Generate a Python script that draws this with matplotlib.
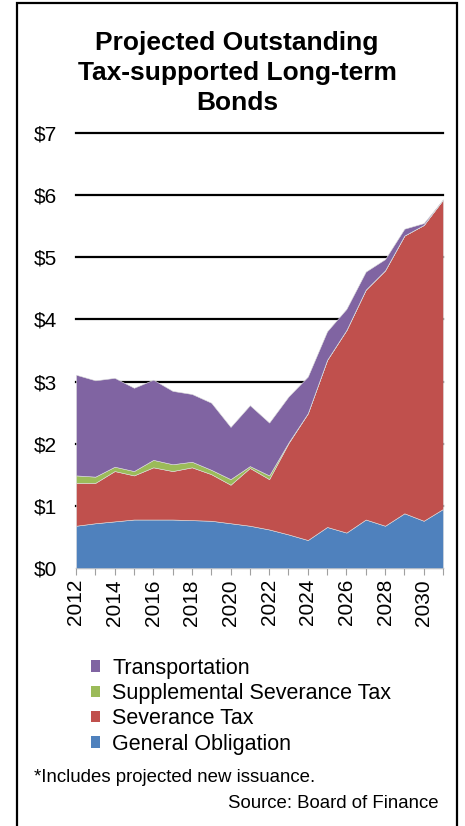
import matplotlib
matplotlib.use("Agg")
import matplotlib.pyplot as plt
from matplotlib.patches import Rectangle, Patch

plt.rcParams['font.family'] = ['Liberation Sans', 'DejaVu Sans']

years = list(range(2012, 2032))
general_obligation = [0.68, 0.72, 0.75, 0.78, 0.78, 0.78, 0.77, 0.76, 0.72, 0.68,
                      0.62, 0.54, 0.45, 0.66, 0.57, 0.78, 0.68, 0.88, 0.76, 0.95]
severance_tax = [0.69, 0.65, 0.81, 0.71, 0.84, 0.78, 0.85, 0.75, 0.62, 0.93,
                 0.81, 1.47, 2.04, 2.69, 3.26, 3.70, 4.11, 4.47, 4.76, 4.98]
supplemental = [0.12, 0.10, 0.07, 0.07, 0.12, 0.11, 0.09, 0.07, 0.09, 0.03,
                0.06, 0.01, 0.00, 0.00, 0.00, 0.00, 0.00, 0.00, 0.00, 0.00]
transportation = [1.62, 1.55, 1.43, 1.34, 1.29, 1.18, 1.09, 1.08, 0.84, 0.98,
                  0.85, 0.74, 0.59, 0.46, 0.34, 0.29, 0.18, 0.11, 0.03, 0.00]

series_names = ["General Obligation", "Severance Tax",
                "Supplemental Severance Tax", "Transportation"]
colors = ["#4F81BD", "#C0504D", "#9BBB59", "#8064A2"]
y_ticks = [0, 1, 2, 3, 4, 5, 6, 7]
y_labels = ["$0", "$1", "$2", "$3", "$4", "$5", "$6", "$7"]

W, H = 465, 826
fig = plt.figure(figsize=(W / 100, H / 100), dpi=100)

# outer frame
fig.patches.append(Rectangle((17 / W, -0.05), (457 - 17) / W, 1.05 - 3 / H,
                             transform=fig.transFigure, fill=False,
                             edgecolor="black", linewidth=1.6))

ax = fig.add_axes([76 / W, 1 - 568 / H, (443 - 76) / W, (568 - 133) / H])
ax.stackplot(years, general_obligation, severance_tax, supplemental, transportation,
             colors=colors, edgecolor="#dddddd", linewidth=0.4, zorder=3)

ax.set_xlim(2012, 2031)
ax.set_ylim(0, 7)
ax.set_yticks(y_ticks)
ax.set_yticklabels(y_labels, fontsize=15)
for v in y_ticks[1:]:
    ax.axhline(v, color="black", linewidth=1.6, zorder=1, clip_on=False)
ax.tick_params(axis="y", length=0, pad=13.5)

ax.set_xticks(years)
ax.set_xticklabels([str(y) if (y - 2012) % 2 == 0 else "" for y in years],
                   rotation=90, fontsize=15)
ax.tick_params(axis="x", length=5, color="#a0a0a0", pad=3)

for s in ["top", "left", "right"]:
    ax.spines[s].set_visible(False)
ax.spines["bottom"].set_color("#a0a0a0")
ax.spines["bottom"].set_linewidth(1.0)

fig.text(237 / W, 1 - 73 / H,
         "Projected Outstanding\nTax-supported Long-term\nBonds",
         ha="center", va="center", fontsize=19, fontweight="bold",
         linespacing=1.29)

handles = [Patch(facecolor=c, edgecolor="none") for c in colors][::-1]
labels = series_names[::-1]
fig.legend(handles, labels, loc="upper left",
           bbox_to_anchor=(80 / W, 1 - 647 / H), frameon=False,
           fontsize=15.5, handlelength=0.45, handleheight=0.45,
           handletextpad=0.55, labelspacing=0.2, borderpad=0)

fig.text(34 / W, 1 - 778 / H, "*Includes projected new issuance.",
         ha="left", va="center", fontsize=13.4)
fig.text(439 / W, 1 - 804 / H, "Source: Board of Finance",
         ha="right", va="center", fontsize=13.4)

fig.savefig("out.png", dpi=100)
